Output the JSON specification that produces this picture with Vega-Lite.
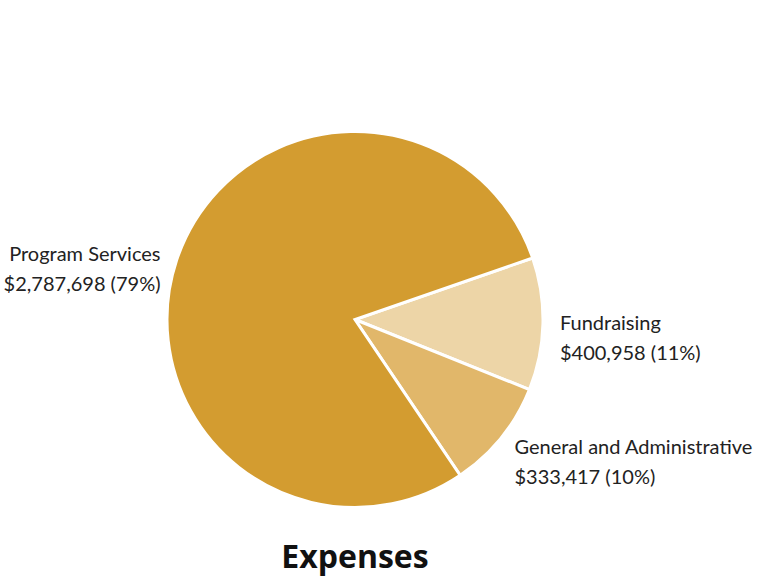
{
  "$schema": "https://vega.github.io/schema/vega-lite/v6.json",
  "width": 768,
  "height": 578,
  "autosize": {"type": "fit", "contains": "padding"},
  "padding": {"top": 108, "left": 0, "right": 44, "bottom": 4},
  "background": "white",
  "config": {"view": {"stroke": null}},
  "title": {"text": "Expenses", "orient": "bottom", "fontSize": 32, "font": "Open Sans", "fontWeight": "bold", "color": "#111111", "offset": 12, "anchor": "middle"},
  "data": {
    "values": [
      {"category": "Fundraising", "amount": 400958, "pct": "11%", "ord": 1},
      {"category": "General and Administrative", "amount": 333417, "pct": "10%", "ord": 2},
      {"category": "Program Services", "amount": 2787698, "pct": "79%", "ord": 3}
    ]
  },
  "transform": [
    {"calculate": "datum.category + '\\n$' + format(datum.amount, ',') + ' (' + datum.pct + ')'", "as": "label"}
  ],
  "encoding": {
    "theta": {"field": "amount", "type": "quantitative", "stack": true, "scale": {"range": [1.2375, 7.5207]}},
    "order": {"field": "ord", "type": "quantitative"},
    "color": {
      "field": "category",
      "type": "nominal",
      "scale": {
        "domain": ["Program Services", "General and Administrative", "Fundraising"],
        "range": ["#D39C30", "#E1B76A", "#EDD5A7"]
      },
      "legend": null
    }
  },
  "layer": [
    {"mark": {"type": "arc", "outerRadius": 188, "stroke": "white", "strokeWidth": 3}},
    {
      "mark": {
        "type": "text",
        "radius": 205,
        "lineBreak": "\n",
        "font": "Lato",
        "fontSize": 20,
        "lineHeight": 30,
        "align": {"expr": "datum.category == 'Program Services' ? 'right' : 'left'"}
      },
      "encoding": {
        "text": {"field": "label", "type": "nominal"},
        "color": {"value": "#222222"}
      }
    }
  ]
}
